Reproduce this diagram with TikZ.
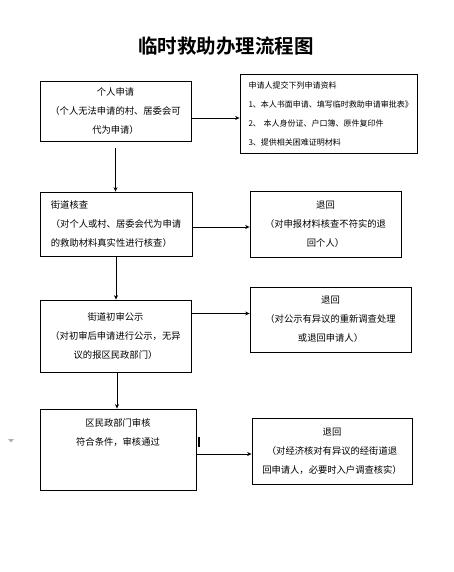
\documentclass[tikz,border=0pt]{standalone}
\usepackage{fontspec}
\setmainfont{Noto Sans CJK SC}
\newfontfamily\titlefont{Noto Sans CJK SC Bold}
\usetikzlibrary{arrows.meta}
\tikzset{
  box/.style={draw=black, line width=0.8pt, inner sep=0pt, align=center,
    font=\fontsize{9.3}{19}\selectfont},
  smallbox/.style={draw=black, line width=0.8pt, inner sep=0pt, align=left,
    font=\fontsize{8}{19}\selectfont},
  lbl/.style={inner sep=0pt, align=center, font=\fontsize{9.3}{19}\selectfont},
  arr/.style={draw=black, line width=0.7pt, -{Stealth[length=4.5pt,width=4pt]}},
}
\begin{document}
\begin{tikzpicture}[x=1pt,y=-1pt]
\useasboundingbox (0,0) rectangle (454,572);
\node[inner sep=0pt, font=\titlefont\fontsize{19.5}{22}\selectfont] (title) at (226,46) {临时救助办理流程图};

\node[box, minimum width=151pt, minimum height=60pt] (b1) at (115.5,111)
  {个人申请\\（个人无法申请的村、居委会可\\代为申请）};
\node[box, align=left, minimum width=152pt, minimum height=64pt] (b2) at (116,224)
  {街道核查\\（对个人或村、居委会代为申请\\的救助材料真实性进行核查）};
\node[box, minimum width=151pt, minimum height=72pt] (b3) at (115.5,336)
  {街道初审公示\\（对初审后申请进行公示，无异\\议的报区民政部门）};
\node[box, minimum width=156pt, minimum height=81pt] (b4) at (118,449.5) {};
\node[lbl, anchor=north] (b4t) at (118,418) {区民政部门审核\\符合条件，审核通过};

\node[smallbox, text width=160pt, minimum width=177pt, minimum height=79pt] (tr) at (328.5,113.5)
  {申请人提交下列申请资料\\1、本人书面申请、填写临时救助申请审批表》\\2、 本人身份证、户口簿、原件复印件\\3、提供相关困难证明材料};
\node[box, minimum width=151pt, minimum height=66pt] (r1) at (325.5,224)
  {退回\\（对申报材料核查不符实的退\\回个人）};
\node[box, minimum width=161pt, minimum height=65pt] (r2) at (330.5,319.5)
  {退回\\（对公示有异议的重新调查处理\\或退回申请人）};
\node[box, minimum width=160pt, minimum height=66pt] (r3) at (332,451)
  {退回\\（对经济核对有异议的经街道退\\回申请人，必要时入户调查核实）};

% vertical flow
\draw[arr, shorten <=7pt] (b1.south) -- (b1.south |- b2.north);
\draw[arr] (b2.south) -- (b2.south |- b3.north);
\draw[arr] ([xshift=1.5pt]b3.south) -- ([xshift=1.5pt]b3.south |- b4.north);
% horizontal flow
\draw[arr] ([yshift=-7pt]b1.east) -- ([yshift=-7pt]b1.east -| tr.west);
\draw[arr] ([yshift=-3pt]b2.east) -- ([yshift=-3pt]b2.east -| r1.west);
\draw[arr] ([yshift=22.5pt]b3.east) -- ([yshift=22.5pt]b3.east -| r2.west);
\draw[arr] ([yshift=-4.5pt]b4.east) -- ([yshift=-4.5pt]b4.east -| r3.west);

% small marks
\fill[black] (197.5,437) rectangle (199.5,447);
\fill[gray!60] (8,439) -- (14,439) -- (11,442.5) -- cycle;
\end{tikzpicture}
\end{document}
